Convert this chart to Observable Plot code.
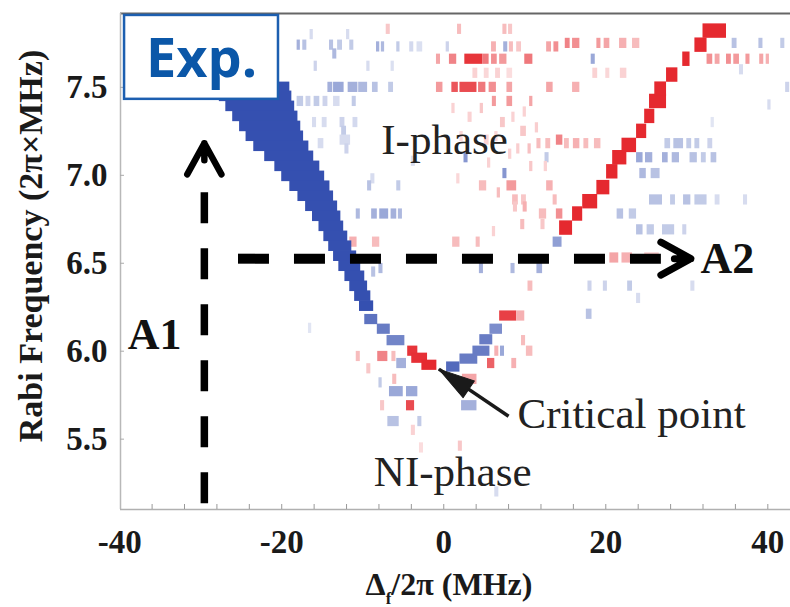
<!DOCTYPE html>
<html>
<head>
<meta charset="utf-8">
<script src="https://cdn.jsdelivr.net/npm/d3@7"></script>
<script src="https://cdn.jsdelivr.net/npm/@observablehq/plot@0.6"></script>
<style>
  html, body { margin: 0; padding: 0; background: #fff; }
  #chart { width: 790px; height: 607px; }
</style>
</head>
<body>
<div id="chart"></div>
<script>
// ---------- scales / ticks ----------
const xDomain = [-39.9, 42.8];          // detuning Δf/2π (MHz)
const yDomain = [5.1, 7.92];            // Rabi frequency (2π×MHz)
const xTickLabels = [-40, -20, 0, 20, 40];
const xMinorTicks = [-36, -32, -28, -24, -20, -16, -12, -8, -4, 0, 4, 8, 12, 16, 20, 24, 28, 32, 36, 40];
const yTickLabels = [5.5, 6.0, 6.5, 7.0, 7.5];

// ---------- data ----------
// strong blue band: [Rabi, detStart, detEnd]
const blueBand = [
  [7.500, -28.6, -19.0], [7.449, -27.7, -18.75], [7.392, -26.9, -18.4], [7.335, -26.05, -18.0],
  [7.278, -25.2, -17.65], [7.222, -24.4, -17.3], [7.165, -23.45, -16.65], [7.108, -22.1, -16.05],
  [7.051, -20.85, -15.3], [6.994, -20.0, -14.7], [6.938, -19.0, -14.05], [6.881, -18.0, -13.6],
  [6.824, -17.05, -13.1], [6.767, -16.2, -12.7], [6.710, -15.4, -12.35], [6.653, -14.8, -11.85],
  [6.597, -14.2, -11.35], [6.540, -13.6, -10.75], [6.483, -12.95, -10.25], [6.426, -12.2, -9.75],
  [6.369, -11.6, -9.4], [6.313, -11.0, -9.0], [6.256, -10.4, -8.65]
];
// strong red branch: [Rabi, detStart, detEnd]
const redBranch = [
  [6.70, 14.3, 15.9], [6.78, 15.9, 17.15], [6.85, 17.15, 19.0], [6.93, 18.9, 20.5],
  [7.02, 20.1, 21.5], [7.10, 20.85, 22.6], [7.17, 22.0, 23.8], [7.25, 23.8, 25.05],
  [7.335, 24.8, 26.05], [7.42, 25.4, 27.5], [7.49, 26.05, 27.5], [7.57, 27.5, 28.9],
  [7.66, 29.5, 30.4], [7.74, 31.0, 32.5], [7.82, 32.0, 34.9]
];
// cells around the critical point: [Rabi, detStart, detEnd, signal]
const criticalCells = [
  [6.18, -9.75, -8.15, -0.8], [6.125, -8.2, -6.6, -0.75], [6.06, -7.0, -4.8, -0.7],
  [6.0, -4.45, -3.2, 0.9], [5.96, -3.95, -2.0, 0.92], [5.92, -2.7, -0.85, 0.95],
  [5.91, 0.35, 2.0, -0.85], [5.955, 2.0, 4.2, -0.75], [6.0, 3.6, 5.7, -0.75],
  [6.065, 4.45, 6.05, -0.75], [6.125, 5.7, 7.25, -0.65], [6.2, 6.9, 9.0, 0.85], [6.2, 9.0, 10.0, 0.35]
];
// weak scattered cells: [Rabi, detStart, detEnd, signal]
const scatterCells = [
  [7.83, -7.1, -6.6, 0.25], [7.83, 1.7, 2.2, 0.3], [7.83, 7.3, 7.8, 0.3], [7.83, 8.0, 8.5, 0.25],
  [7.8, -16.5, -16.1, -0.2], [7.8, -12.0, -11.6, -0.2],
  [7.74, -18.1, -17.7, -0.45], [7.74, -17.4, -16.9, -0.35], [7.74, -14.1, -13.6, -0.35],
  [7.74, -13.1, -12.5, -0.3], [7.74, -11.6, -11.1, -0.3],
  [7.73, -8.3, -7.9, -0.45], [7.73, -7.7, -7.3, -0.4], [7.73, -5.8, -5.4, -0.3],
  [7.73, -4.2, -3.7, -0.22], [7.73, -3.3, -2.6, -0.18], [7.73, 0.3, 0.7, -0.25],
  [7.73, 5.9, 6.5, 0.35], [7.73, 7.4, 7.9, -0.45], [7.73, 8.1, 8.6, 0.3], [7.73, 9.0, 9.6, 0.25],
  [7.73, 12.7, 13.3, 0.4], [7.73, 13.6, 14.2, 0.5], [7.75, 15.0, 15.6, 0.55], [7.75, 15.9, 16.8, 0.5],
  [7.75, 18.9, 19.4, 0.45], [7.75, 19.8, 20.5, 0.4], [7.75, 21.7, 22.6, 0.35], [7.75, 23.3, 24.2, 0.3],
  [7.75, 35.6, 36.2, -0.35], [7.75, 38.9, 39.4, -0.35], [7.75, 41.6, 42.1, -0.3],
  [7.69, -13.7, -13.2, -0.4],
  [7.66, -0.9, -0.4, 0.4], [7.66, 0.7, 1.6, 0.55], [7.66, 2.6, 4.8, 0.9],
  [7.66, 4.8, 5.6, 0.6], [7.66, 5.9, 6.6, 0.5], [7.66, 6.9, 7.8, 0.45],
  [7.66, 10.0, 11.0, 0.6], [7.66, 18.2, 18.7, -0.5], [7.66, 32.5, 33.2, 0.5], [7.66, 33.5, 34.1, 0.4],
  [7.66, 34.9, 35.5, 0.5], [7.66, 35.8, 36.5, 0.45], [7.66, 37.3, 37.8, 0.45],
  [7.66, 39.0, 39.5, 0.4], [7.66, 39.8, 40.2, 0.35],
  [7.62, -16.0, -15.6, -0.25], [7.62, -9.5, -9.1, -0.2], [7.62, -6.5, -6.1, -0.18], [7.6, 36.5, 37.0, -0.2],
  [7.58, 3.6, 4.2, 0.2], [7.58, 5.0, 5.6, 0.18], [7.58, 6.4, 7.0, 0.2], [7.58, 7.8, 8.5, 0.15],
  [7.58, 18.4, 19.0, 0.2], [7.58, 20.0, 20.5, 0.18], [7.58, 21.8, 22.6, 0.2],
  [7.5, -14.3, -13.7, -0.45], [7.5, -13.6, -12.3, -0.5], [7.5, -11.8, -10.6, -0.45],
  [7.5, -10.5, -9.4, -0.4], [7.5, -8.8, -8.1, -0.35], [7.5, -6.8, -6.2, -0.3],
  [7.5, -0.9, -0.1, 0.45], [7.5, 1.0, 1.8, 0.75], [7.5, 2.0, 4.1, 0.8],
  [7.5, 4.3, 5.2, 0.6], [7.5, 5.6, 6.5, 0.5], [7.5, 7.8, 8.5, 0.4], [7.5, 12.7, 13.5, 0.4],
  [7.5, 15.9, 16.8, 0.35], [7.5, 42.2, 42.7, -0.25],
  [7.42, -18.1, -17.3, -0.3], [7.42, -17.0, -16.4, -0.25], [7.42, -16.0, -15.3, -0.3],
  [7.42, -14.9, -14.3, -0.25], [7.42, -13.6, -12.8, -0.2], [7.42, -11.3, -10.8, -0.3],
  [7.42, 6.0, 6.5, 0.45], [7.42, 7.8, 8.5, 0.45], [7.42, 10.6, 11.0, 0.4], [7.4, 40.0, 40.4, -0.2],
  [7.38, 1.0, 1.4, 0.2], [7.38, 4.5, 4.9, 0.25], [7.36, 9.8, 10.2, 0.2],
  [7.33, 3.0, 3.5, 0.2], [7.33, 8.4, 8.8, 0.2], [7.3, 33.0, 33.4, -0.15],
  [7.3, -16.2, -15.7, -0.2], [7.3, -15.0, -14.4, -0.2], [7.3, -12.8, -12.2, -0.25], [7.3, -11.2, -10.6, -0.22],
  [7.3, 7.0, 7.6, 0.25], [7.27, 11.3, 11.7, 0.22], [7.25, 9.5, 10.2, 0.25], [7.25, -12.6, -12.0, -0.3],
  [7.22, 6.3, 6.7, 0.18], [7.22, 2.0, 2.4, 0.18], [7.2, 5.0, 5.6, 0.2], [7.2, -12.8, -11.5, -0.2],
  [7.15, -12.2, -11.7, -0.25], [7.15, 9.0, 9.4, 0.22], [7.15, 10.4, 10.8, 0.28],
  [7.18, -15.5, -14.8, -0.2], [7.2, 13.9, 14.7, 0.55], [7.18, 11.5, 12.0, 0.3], [7.18, 12.6, 13.2, 0.3],
  [7.18, 14.9, 15.5, 0.3], [7.18, 16.0, 16.8, 0.35], [7.18, 17.3, 17.9, 0.3], [7.18, 18.6, 19.4, 0.3],
  [7.18, 27.3, 28.0, -0.3], [7.18, 28.4, 29.6, -0.35], [7.18, 30.0, 30.6, -0.3],
  [7.18, 31.0, 31.6, -0.3], [7.18, 32.6, 33.2, -0.25],
  [7.12, 8.0, 8.4, 0.2], [7.08, -4.0, -3.5, -0.18], [7.07, 5.4, 5.8, 0.2],
  [7.1, 2.5, 3.0, -0.6], [7.1, 12.5, 13.0, -0.3], [7.1, 23.8, 24.6, -0.5], [7.1, 24.9, 25.8, -0.45],
  [7.1, 27.0, 27.7, -0.45], [7.1, 28.2, 29.1, -0.4], [7.1, 30.4, 31.3, -0.35],
  [7.1, 31.8, 32.4, -0.3], [7.1, 33.0, 33.7, -0.35],
  [7.05, 10.6, 11.0, 0.25], [7.05, 12.4, 12.8, 0.2],
  [7.01, 7.3, 7.8, -0.6], [7.01, 24.2, 25.0, -0.4], [7.01, 25.6, 26.7, -0.35],
  [6.98, -9.0, -8.5, -0.2], [6.98, 1.6, 2.0, 0.18],
  [6.94, -9.4, -8.9, -0.35], [6.94, -5.8, -5.3, -0.3], [6.94, 4.4, 5.3, 0.3],
  [6.94, 7.8, 9.0, 0.45], [6.94, 12.7, 13.5, 0.35], [6.9, 6.6, 7.0, 0.3],
  [6.86, 8.5, 9.2, 0.3], [6.86, 9.6, 10.2, 0.25], [6.86, 13.5, 14.0, 0.3], [6.86, 25.4, 27.0, -0.35],
  [6.86, 28.0, 28.6, -0.3], [6.86, 29.6, 30.5, -0.35], [6.86, 31.0, 32.5, -0.3],
  [6.86, 33.5, 34.1, -0.2], [6.86, 37.0, 37.5, -0.2],
  [6.82, 9.8, 10.3, 0.35], [6.82, 8.6, 9.1, 0.25],
  [6.78, -10.8, -10.3, -0.4], [6.78, -8.9, -8.2, -0.45], [6.78, -7.9, -6.8, -0.5],
  [6.78, -6.5, -5.8, -0.45], [6.78, -5.6, -5.1, -0.4], [6.78, 11.8, 12.7, 0.3],
  [6.78, 13.9, 14.7, 0.5], [6.78, 21.4, 22.2, -0.35], [6.78, 22.9, 23.8, -0.3],
  [6.72, 9.5, 10.0, 0.3], [6.72, 12.0, 12.5, 0.25],
  [6.69, 23.8, 24.6, -0.35], [6.69, 25.1, 26.0, -0.3], [6.69, 27.0, 28.5, -0.3], [6.69, 29.5, 30.0, -0.25],
  [6.68, 6.0, 6.4, 0.2],
  [6.62, -11.6, -10.7, 0.35], [6.62, -8.8, -7.9, 0.3], [6.62, 1.1, 2.0, 0.3],
  [6.62, 4.0, 4.5, 0.3], [6.62, 13.5, 14.6, -0.55],
  [6.53, 20.5, 21.6, 0.4], [6.53, 22.0, 23.3, 0.35], [6.53, 24.8, 26.6, 0.25],
  [6.47, -8.0, -7.5, -0.4], [6.45, -8.9, -8.4, -0.35], [6.47, 4.4, 4.9, -0.45],
  [6.47, 8.3, 8.8, -0.4], [6.47, 11.5, 12.2, -0.45],
  [6.37, 10.4, 11.0, 0.3], [6.37, 17.8, 18.3, -0.25], [6.37, 19.7, 20.2, -0.25],
  [6.37, 22.7, 23.3, -0.3], [6.37, 30.5, 31.0, -0.2], [6.3, 23.8, 24.3, -0.2],
  [6.21, 17.6, 18.3, -0.35], [6.13, -16.7, -16.3, -0.15], [6.06, 9.6, 10.1, 0.3],
  [6.0, 6.3, 6.8, 0.35], [6.0, 7.0, 7.5, -0.5], [6.0, 10.2, 11.0, 0.3],
  [5.97, -10.8, -10.3, 0.3], [5.97, -8.15, -6.9, 0.55], [5.97, -6.4, -5.9, 0.3],
  [5.93, -5.8, -4.6, -0.45], [5.93, 5.4, 6.3, 0.7], [5.93, 8.4, 9.0, 0.35],
  [5.9, -9.5, -9.0, 0.25], [5.84, -6.3, -5.8, 0.3], [5.84, 2.3, 4.1, 0.4], [5.82, -8.0, -7.6, -0.3],
  [5.77, -6.7, -5.0, -0.5], [5.77, -4.6, -3.2, -0.5],
  [5.69, -7.8, -7.3, 0.25], [5.69, -4.6, -3.6, 0.8], [5.69, 2.2, 4.1, -0.45],
  [5.6, -6.9, -5.5, -0.35], [5.6, -3.2, -2.7, -0.3], [5.55, -4.0, -3.5, 0.2],
  [5.46, 1.8, 2.3, 0.25], [5.45, -3.0, -2.5, 0.15], [5.2, 6.3, 6.8, -0.2]
];

// ---------- annotations (data coordinates) ----------
const phaseLabels = [
  { text: "I-phase", det: 0.1, rabi: 7.12 },
  { text: "NI-phase", det: 1.1, rabi: 5.233 }
];
const criticalLabel = [{ text: "Critical point", det: 9.1, rabi: 5.562 }];
const criticalArrow = [{ det1: 8.0, rabi1: 5.63, det2: -0.6, rabi2: 5.898 }];
const pathLabels = [
  { text: "A1", det: -39.0, rabi: 6.011 },
  { text: "A2", det: 31.7, rabi: 6.443 }
];
const pathA1 = [{ det1: -29.55, rabi1: 5.136, det2: -29.55, rabi2: 6.909, tipDet: -29.55, tipRabi: 7.182 }];
const pathA2 = [{ det1: -25.4, rabi1: 6.526, det2: 26.8, rabi2: 6.526, tipDet: 30.5, tipRabi: 6.526 }];
const expBox = [{ text: "Exp.", det1: -39.4, det2: -20.4, rabi1: 7.432, rabi2: 7.909, det: -29.9, rabi: 7.557 }];

// ---------- build rect tables ----------
const toRects = (rows, h, fixed) =>
  rows.map(([f, a, b, v]) => ({ f1: f - h / 2, f2: f + h / 2, d1: a, d2: b, v: fixed ?? v }));
const cells = [
  ...toRects(scatterCells, 0.058),
  ...toRects(criticalCells, 0.058),
  ...toRects(blueBand, 0.06, -1),
  ...toRects(redBranch, 0.082, 0.95)
];

const BLUE = "#3550b0", RED = "#e41e24";
const interp = t => t < 0.5
  ? d3.interpolateRgb(BLUE, "#ffffff")(t * 2)
  : d3.interpolateRgb("#ffffff", RED)(t * 2 - 1);

const chevron = {
  draw(context, l) {
    const w = l * 0.55;
    context.moveTo(-w, 0);
    context.lineTo(0, -l);
    context.lineTo(w, 0);
    context.moveTo(0, -l);
    context.lineTo(0, -l * 0.45);
  }
};
const filledHead = {
  draw(context, l) {
    const w = l * 0.28;
    context.moveTo(0, -l);
    context.lineTo(-w, 0);
    context.lineTo(w, 0);
    context.closePath();
  }
};

const serif = "'Liberation Serif', 'Times New Roman', serif";

const chart = Plot.plot({
  width: 790,
  height: 607,
  marginLeft: 120,
  marginRight: 0,
  marginTop: 13,
  marginBottom: 98,
  style: { background: "#fff", overflow: "visible", fontFamily: serif },
  x: { domain: xDomain },
  y: { domain: yDomain },
  color: { type: "linear", domain: [-1, 1], interpolate: interp },
  marks: [
    Plot.rect(cells, { x1: "d1", x2: "d2", y1: "f1", y2: "f2", fill: "v" }),
    // frame
    Plot.ruleY([yDomain[1]], { stroke: "#666", strokeWidth: 2 }),
    Plot.ruleX([xDomain[0]], { stroke: "#b8b8b8", strokeWidth: 1.5 }),
    Plot.ruleY([yDomain[0]], { stroke: "#b0b0b0", strokeWidth: 1.5 }),
    // axes
    Plot.axisX(xMinorTicks, { tickSize: 5, dy: -5, tickFormat: () => "", stroke: "#999", label: null }),
    Plot.axisX(xTickLabels, { tickSize: 0, tickPadding: 20, tickFormat: d => String(d), fontSize: 33,
      fontWeight: "bold", fill: "#1a1a1a", label: null }),
    Plot.axisY(yTickLabels, { tickSize: 4, dx: 4, tickFormat: () => "", stroke: "#aaa", label: null }),
    Plot.axisY(yTickLabels, { tickSize: 0, tickPadding: 13, tickFormat: d3.format(".1f"), fontSize: 33,
      fontWeight: "bold", fill: "#1a1a1a", label: null }),
    // dashed arrows A1 / A2
    Plot.link(pathA1, { x1: "det1", y1: "rabi1", x2: "det2", y2: "rabi2", stroke: "#000",
      strokeWidth: 7.5, strokeDasharray: "31,25" }),
    Plot.vector(pathA1, { x: "tipDet", y: "tipRabi", length: 31, rotate: 0, anchor: "end", shape: chevron,
      stroke: "#000", strokeWidth: 6.5, strokeLinecap: "round", strokeLinejoin: "round", fill: "none" }),
    Plot.link(pathA2, { x1: "det1", y1: "rabi1", x2: "det2", y2: "rabi2", stroke: "#000",
      strokeWidth: 10, strokeDasharray: "31,25" }),
    Plot.vector(pathA2, { x: "tipDet", y: "tipRabi", length: 30, rotate: 90, anchor: "end", shape: chevron,
      stroke: "#000", strokeWidth: 7, strokeLinecap: "round", strokeLinejoin: "round", fill: "none" }),
    Plot.text(pathLabels, { x: "det", y: "rabi", text: "text", textAnchor: "start", lineAnchor: "bottom",
      fontSize: 44, fontWeight: "bold", fontFamily: serif, fill: "#111" }),
    // critical point arrow
    Plot.link(criticalArrow, { x1: "det1", y1: "rabi1", x2: "det2", y2: "rabi2", stroke: "#1a1a1a", strokeWidth: 3.5 }),
    Plot.vector(criticalArrow, { x: "det2", y: "rabi2", length: 36, rotate: -56, anchor: "end", shape: filledHead,
      fill: "#1a1a1a", stroke: "#1a1a1a", strokeWidth: 1 }),
    Plot.text(criticalLabel, { x: "det", y: "rabi", text: "text", textAnchor: "start", lineAnchor: "bottom",
      fontSize: 43, fontFamily: serif, fill: "#222" }),
    Plot.text(phaseLabels, { x: "det", y: "rabi", text: "text", textAnchor: "middle", lineAnchor: "bottom",
      fontSize: 43, fontFamily: serif, fill: "#222" }),
    // Exp. box
    Plot.rect(expBox, { x1: "det1", x2: "det2", y1: "rabi1", y2: "rabi2", fill: "#fff", stroke: "#1d5fb0", strokeWidth: 2.5 }),
    Plot.text(expBox, { x: "det", y: "rabi", text: "text", textAnchor: "middle", lineAnchor: "bottom",
      fontSize: 54, fontWeight: "bold", fontFamily: "'Open Sans', sans-serif", fill: "#0b57a8" })
  ]
});

const svg = d3.select(chart);
// x-axis title with subscript
const xt = svg.append("text")
  .attr("x", 449).attr("y", 595)
  .attr("text-anchor", "middle")
  .style("font-family", serif).style("font-weight", "bold").style("font-size", "32px").attr("fill", "#1a1a1a");
xt.append("tspan").text("Δ");
xt.append("tspan").style("font-size", "17px").attr("dy", 9).text("f");
xt.append("tspan").attr("dy", -9).text("/2π (MHz)");
// y-axis title
svg.append("text")
  .attr("transform", "translate(42,246) rotate(-90)")
  .attr("text-anchor", "middle")
  .style("font-family", serif).style("font-weight", "bold").style("font-size", "34px").attr("fill", "#1a1a1a")
  .text("Rabi Frequency (2π×MHz)");

document.getElementById("chart").appendChild(chart);
</script>
</body>
</html>
